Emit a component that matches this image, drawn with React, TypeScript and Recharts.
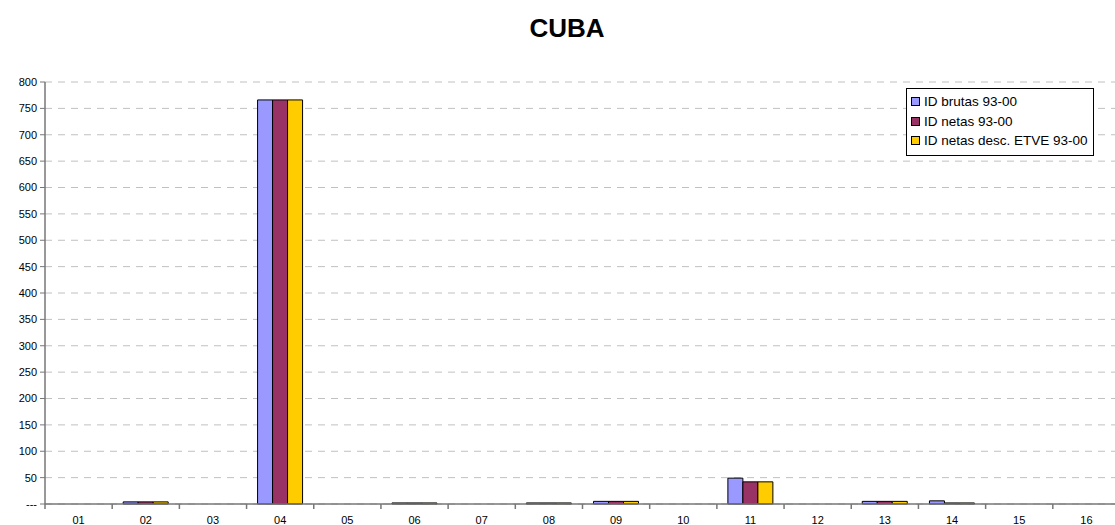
import React from "react";
import { BarChart, Bar, XAxis, YAxis, CartesianGrid } from "recharts";

const categories = ["01", "02", "03", "04", "05", "06", "07", "08", "09", "10", "11", "12", "13", "14", "15", "16"];
const brutas = [0, 4, 0, 766, 0, 2, 0, 2, 5, 0, 49, 0, 5, 6, 0, 0];
const netas = [0, 4, 0, 766, 0, 2, 0, 2, 5, 0, 42, 0, 5, 2, 0, 0];
const netasEtve = [0, 4, 0, 766, 0, 2, 0, 2, 5, 0, 42, 0, 5, 2, 0, 0];
const yTicks = [0, 50, 100, 150, 200, 250, 300, 350, 400, 450, 500, 550, 600, 650, 700, 750, 800];

const series = [
  { key: "brutas", name: "ID brutas 93-00", color: "#9999FF" },
  { key: "netas", name: "ID netas 93-00", color: "#993366" },
  { key: "netasEtve", name: "ID netas desc. ETVE 93-00", color: "#FFCC00" },
];

const data = categories.map((c, i) => ({
  cat: c,
  brutas: brutas[i],
  netas: netas[i],
  netasEtve: netasEtve[i],
}));

const CHART_W = 1120;
const Y_W = 45;
const HALF_BAND = (CHART_W - Y_W) / categories.length / 2;
const FONT = "Arial, 'Liberation Sans', sans-serif";

function XTick(props: any) {
  const { x, y, payload } = props;
  return (
    <g>
      <line x1={x - HALF_BAND} y1={y} x2={x - HALF_BAND} y2={y + 5} stroke="#777" strokeWidth={1.5} />
      <text x={x} y={y + 20} textAnchor="middle" fontSize={11} fill="#000" fontFamily={FONT}>
        {payload.value}
      </text>
    </g>
  );
}

function LegendBox() {
  return (
    <div
      style={{
        position: "absolute",
        left: 906,
        top: 88,
        border: "1px solid #000",
        background: "#fff",
        width: 188,
        padding: "3px 0 4px 4px",
        fontFamily: FONT,
        fontSize: 13.5,
        boxSizing: "border-box",
      }}
    >
      {series.map((s) => (
        <div key={s.key} style={{ display: "flex", alignItems: "center", height: 19.5 }}>
          <span
            style={{
              display: "inline-block",
              width: 7,
              height: 7,
              background: s.color,
              border: "1px solid #000",
              marginRight: 4,
            }}
          />
          {s.name}
        </div>
      ))}
    </div>
  );
}

export default function App() {
  return (
    <div
      style={{
        position: "absolute",
        left: 0,
        top: 0,
        width: 1115,
        height: 525,
        overflow: "hidden",
        background: "#fff",
        fontFamily: FONT,
      }}
    >
      <div
        style={{
          position: "absolute",
          top: 13,
          left: 0,
          width: 1134,
          textAlign: "center",
          fontSize: 26,
          fontWeight: "bold",
        }}
      >
        CUBA
      </div>
      <BarChart
        width={CHART_W}
        height={525}
        data={data}
        margin={{ top: 82, right: 0, bottom: 0, left: 0 }}
        barCategoryGap={11}
        barGap={0}
      >
        <CartesianGrid vertical={false} stroke="#c0c0c0" strokeDasharray="7 6" />
        <XAxis
          dataKey="cat"
          height={21}
          tickSize={0}
          tickMargin={0}
          interval={0}
          tick={<XTick />}
          axisLine={{ stroke: "#777", strokeWidth: 1.5 }}
        />
        <YAxis
          width={Y_W}
          domain={[0, 800]}
          ticks={yTicks}
          interval={0}
          tickSize={5}
          tickMargin={3}
          tickFormatter={(v: number) => (v === 0 ? "---" : String(v))}
          tick={{ fontSize: 11, fill: "#000", fontFamily: FONT }}
          axisLine={{ stroke: "#777", strokeWidth: 1.5 }}
          tickLine={{ stroke: "#777" }}
        />
        {series.map((s) => (
          <Bar
            key={s.key}
            dataKey={s.key}
            name={s.name}
            fill={s.color}
            stroke="#000"
            strokeWidth={1}
            isAnimationActive={false}
          />
        ))}
      </BarChart>
      <LegendBox />
    </div>
  );
}
